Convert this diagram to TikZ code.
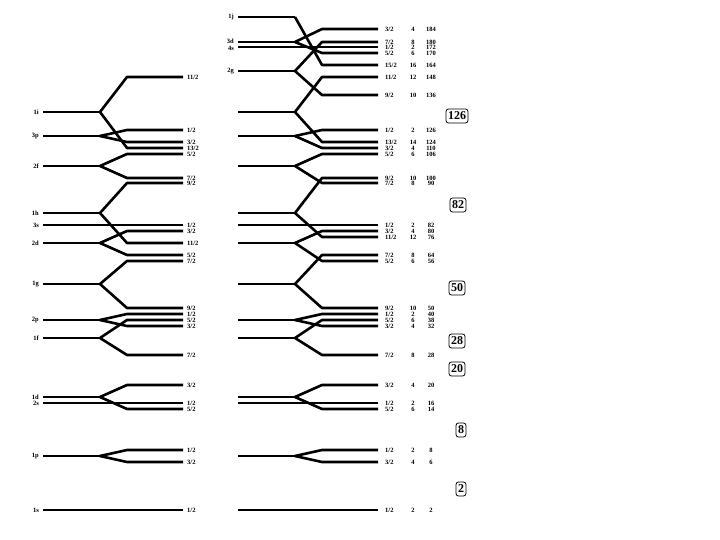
\documentclass[tikz,border=0pt]{standalone}
\usepackage{fontspec}
\setmainfont{Liberation Serif}

\begin{document}
\begin{tikzpicture}[x=1pt, y=-1pt,
    level/.style={line width=2.6pt, line join=round},
    shlab/.style={left, inner sep=0pt, font=\fontsize{6.5}{6.5}\selectfont\bfseries},
    jlab/.style={right, inner sep=0pt, font=\fontsize{6.5}{6.5}\selectfont\bfseries},
    numlab/.style={inner sep=0pt, font=\fontsize{6.5}{6.5}\selectfont\bfseries},
    magic/.style={draw, line width=0.8pt, rounded corners=2.5pt, inner sep=2pt,
        minimum height=14pt, font=\fontsize{12}{12}\selectfont\bfseries}]
    \useasboundingbox (0,0) rectangle (720,540);

    % Coluna esquerda - camadas (n l)
    \foreach \sh/\y in {1i/112, 3p/136, 2f/166, 1h/213, 3s/225, 2d/243, 1g/284,
                        2p/320, 1f/338, 1d/397, 2s/403, 1p/456, 1s/510} {
        \node[shlab] (lab-L\sh) at (39,\y) {\sh};
        \coordinate (L\sh) at (100,\y);
        \draw[level] (43,\y) -- (L\sh);
    }

    % Coluna esquerda - desdobramento spin-orbita (j = num/2)
    \foreach \sh/\y/\j in {1i/77/11, 1i/148/13, 3p/130/1, 3p/142/3, 2f/154/5, 2f/178/7,
                           1h/183/9, 1h/243/11, 3s/225/1, 2d/231/3, 2d/255/5,
                           1g/261/7, 1g/308/9, 2p/314/1, 2p/326/3, 1f/320/5, 1f/355/7,
                           1d/385/3, 1d/409/5, 2s/403/1, 1p/450/1, 1p/462/3, 1s/510/1} {
        \draw[level] (L\sh) -- (127,\y) -- (183,\y);
        \node[jlab] (L\sh-\j) at (187,\y) {\j/2};
    }

    % Coluna direita - camadas com nome (rotulo ligeiramente afastado em 3d/4s)
    \foreach \sh/\y/\ly in {1j/17/17, 3d/42/40.8, 4s/47/48.4, 2g/71/71} {
        \node[shlab] (lab-R\sh) at (234,\ly) {\sh};
        \coordinate (R\sh) at (295,\y);
        \draw[level] (238,\y) -- (R\sh);
    }

    % Coluna direita - camadas sem nome
    \foreach \sh/\y in {1i/112, 3p/136, 2f/166, 1h/213, 3s/225, 2d/243, 1g/284,
                        2p/320, 1f/338, 1d/397, 2s/403, 1p/456, 1s/510} {
        \coordinate (R\sh) at (295,\y);
        \draw[level] (238,\y) -- (R\sh);
    }

    % Coluna direita - niveis j, degenerescencia 2j+1 e total acumulado
    \foreach \sh/\y/\j/\n/\c in {3d/29/3/4/184, 2g/42/7/8/180, 4s/47/1/2/172, 3d/53/5/6/170,
                                 1j/65/15/16/164, 1i/77/11/12/148, 2g/95/9/10/136,
                                 3p/130/1/2/126, 1i/142/13/14/124, 3p/148/3/4/110,
                                 2f/154/5/6/106, 1h/178/9/10/100, 2f/183/7/8/90,
                                 3s/225/1/2/82, 2d/231/3/4/80, 1h/237/11/12/76,
                                 1g/255/7/8/64, 2d/261/5/6/56,
                                 1g/308/9/10/50, 2p/314/1/2/40, 1f/320/5/6/38, 2p/326/3/4/32,
                                 1f/355/7/8/28, 1d/385/3/4/20, 2s/403/1/2/16, 1d/409/5/6/14,
                                 1p/450/1/2/8, 1p/462/3/4/6, 1s/510/1/2/2} {
        \draw[level] (R\sh) -- (322,\y) -- (378,\y);
        \node[jlab] (R\sh-\j) at (385,\y) {\j/2};
        \node[numlab] (deg-\c) at (413,\y) {\n};
        \node[numlab] (tot-\c) at (431,\y) {\c};
    }

    % Numeros magicos
    \node[magic] (m126) at (457,116) {126};
    \node[magic] (m82)  at (458,205) {82};
    \node[magic] (m50)  at (457,288) {50};
    \node[magic] (m28)  at (457,341) {28};
    \node[magic] (m20)  at (457,369) {20};
    \node[magic] (m8)   at (461,430) {8};
    \node[magic] (m2)   at (461,489) {2};
\end{tikzpicture}
\end{document}
